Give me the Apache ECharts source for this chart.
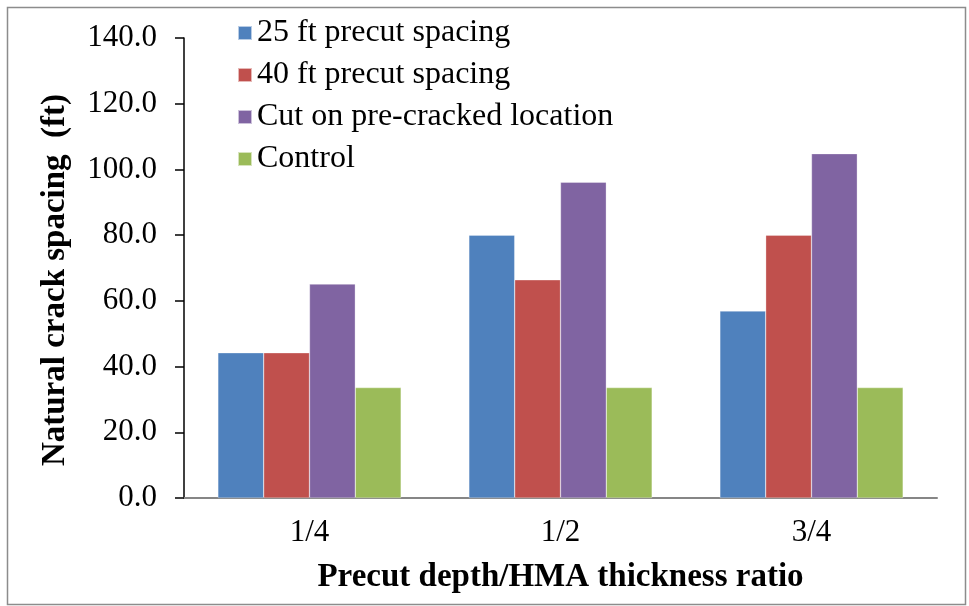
<!DOCTYPE html>
<html>
<head>
    <meta charset="utf-8">
    <title>Natural crack spacing</title>
    <script src="https://cdn.jsdelivr.net/npm/echarts@6/dist/echarts.min.js"></script>
    <style>
        html, body { margin: 0; padding: 0; background: #fff; }
        #main { width: 969px; height: 606px; }
    </style>
</head>
<body>
<div id="main"></div>
<script type="text/javascript">
    // data
    var categories = ['1/4', '1/2', '3/4'];
    var seriesNames = ['25 ft precut spacing', '40 ft precut spacing', 'Cut on pre-cracked location', 'Control'];
    var precut25 = [44.2, 80.0, 56.9];
    var precut40 = [44.2, 66.4, 80.0];
    var preCracked = [65.1, 96.1, 104.8];
    var control = [33.6, 33.6, 33.6];
    var colors = ['#4f81bd', '#c0504d', '#8064a2', '#9bbb59'];

    var font = '"Liberation Serif", "Times New Roman", serif';
    var myChart = echarts.init(document.getElementById('main'));

    var values = [precut25, precut40, preCracked, control];
    var series = seriesNames.map(function (name, i) {
        return {
            name: name,
            type: 'bar',
            data: values[i],
            barGap: '0%',
            barCategoryGap: '27%',
            itemStyle: { color: colors[i], borderColor: 'rgba(255,255,255,0.6)', borderWidth: 0.5 }
        };
    });

    var option = {
        animation: false,
        textStyle: { fontFamily: font },
        graphic: [{
            type: 'rect',
            shape: { x: 7.5, y: 7.5, width: 958, height: 597 },
            style: { fill: 'none', stroke: '#8c8c8c', lineWidth: 1.5 }
        }],
        legend: {
            orient: 'vertical',
            left: 232,
            top: 12,
            itemWidth: 14,
            itemHeight: 14,
            itemGap: 10,
            icon: 'rect',
            textStyle: { fontFamily: font, fontSize: 32, color: '#000' },
            data: seriesNames
        },
        grid: { left: 184, right: 32, top: 38, bottom: 108 },
        xAxis: {
            type: 'category',
            data: categories,
            name: 'Precut depth/HMA thickness ratio',
            nameLocation: 'middle',
            nameGap: 63,
            nameTextStyle: { fontFamily: font, fontSize: 33, fontWeight: 'bold', color: '#000' },
            axisLine: { lineStyle: { color: '#868686', width: 2 } },
            axisTick: { length: 10, lineStyle: { color: '#868686', width: 2 } },
            axisLabel: { fontFamily: font, fontSize: 31, color: '#000', margin: 19 }
        },
        yAxis: {
            type: 'value',
            min: 0,
            max: 140,
            interval: 20,
            name: 'Natural crack spacing  (ft)',
            nameLocation: 'middle',
            nameGap: 112,
            nameTextStyle: { fontFamily: font, fontSize: 33, fontWeight: 'bold', color: '#000', padding: [0, 24, 0, 0] },
            axisLine: { show: true, lineStyle: { color: '#000', width: 1.5 } },
            axisTick: { show: true, length: 9, lineStyle: { color: '#000', width: 1.5 } },
            splitLine: { show: false },
            axisLabel: {
                fontFamily: font, fontSize: 31, color: '#000', margin: 27,
                formatter: function (v) { return v.toFixed(1); }
            }
        },
        series: series
    };

    myChart.setOption(option);
</script>
</body>
</html>
